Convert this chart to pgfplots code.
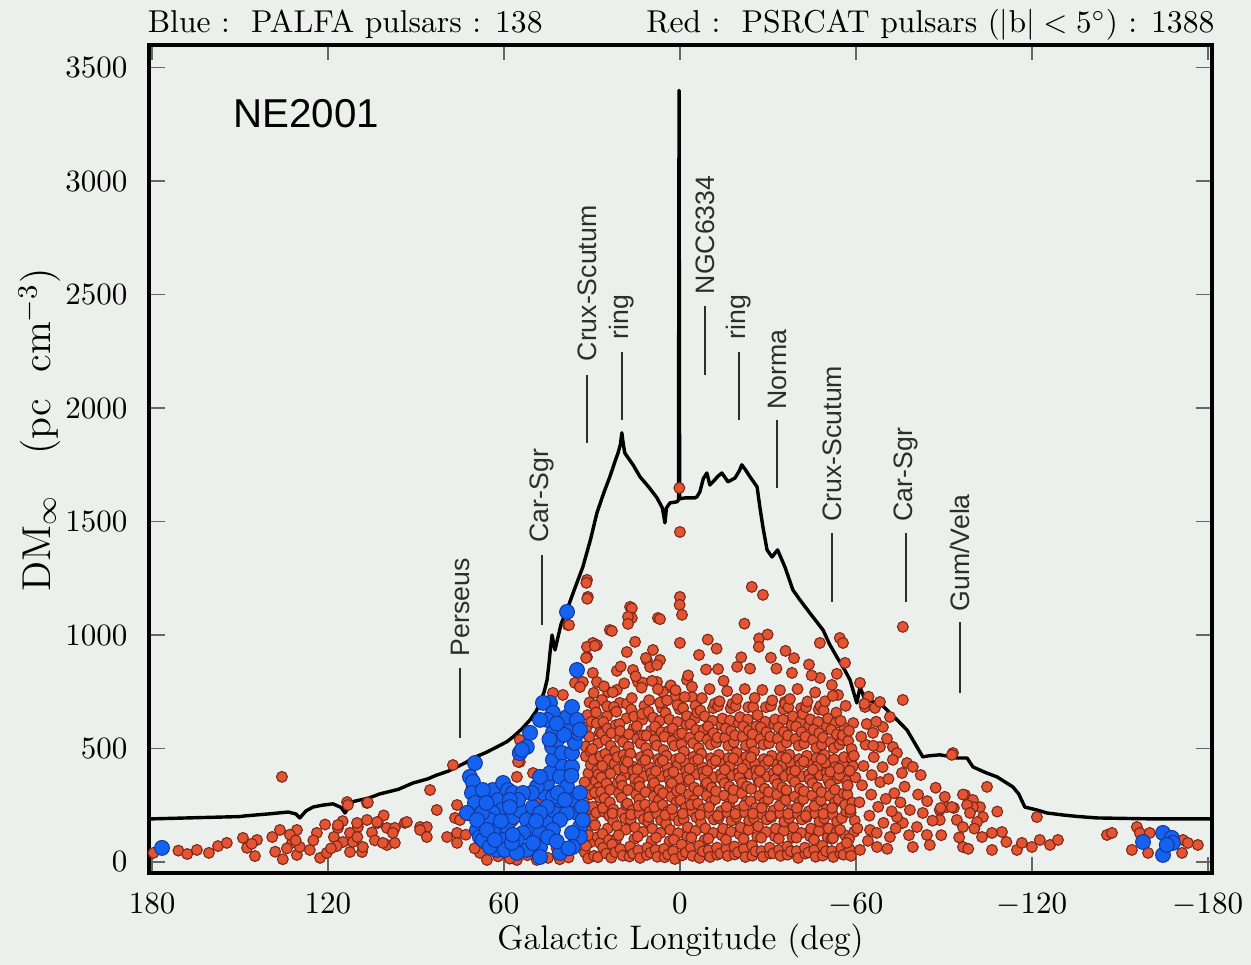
\documentclass[border=0pt]{standalone}
\usepackage{pgfplots}
\pgfplotsset{compat=1.18}
\usepackage{fontspec}
\newfontfamily\helv{Liberation Sans}
\definecolor{bg}{RGB}{236,240,237}
\definecolor{redfill}{RGB}{226,84,50}
\definecolor{rededge}{RGB}{125,40,25}
\definecolor{bluefill}{RGB}{22,98,240}
\definecolor{blueedge}{RGB}{15,52,150}
\definecolor{ann}{RGB}{45,45,45}
\begin{document}
\begin{tikzpicture}
\useasboundingbox[fill=bg] (-48.1pt,-29.7pt) rectangle (355.5pt,281.6pt);
\begin{axis}[name=ax, at={(0,0)}, anchor=south west, scale only axis,
  width=342.9pt, height=267.1pt,
  x dir=reverse, xmin=-181.4, xmax=181, ymin=-48, ymax=3600,
  xtick={-180,-120,-60,0,60,120,180}, ytick={0,500,1000,1500,2000,2500,3000,3500},
  xtick pos=both, ytick pos=both, tick align=inside,
  major tick length=5pt, tick style={black!60, line width=0.5pt},
  axis line style={line width=1.1pt},
  scaled y ticks=false, /pgf/number format/1000 sep={},
  tick label style={font=\fontsize{10.1}{12}\selectfont},
  yticklabel style={xshift=-3.5pt}, xticklabel style={yshift=-3pt},
  xlabel={Galactic Longitude (deg)},
  xlabel style={at={(axis description cs:0.5,-0.0929)}, anchor=base, font=\fontsize{11}{13}\selectfont},
  ylabel={DM$_\infty$\quad(pc\ \ cm$^{-3}$)},
  ylabel style={at={(axis description cs:-0.093,0.535)}, anchor=base, rotate=0, font=\fontsize{13}{15}\selectfont},
]
% PSRCAT pulsars (red)
\addplot[only marks, mark=*, mark size=1.75pt, mark options={fill=redfill, draw=rededge, line width=0.35pt}] coordinates {
(179.5,40) (164.7,53) (160.6,40) (157.5,70) (154.5,84) (149,106) (147.6,62) (144.9,26) (144.2,97) (146,80) (171,50) (168,35)
(136.4,141) (135.7,375) (135.4,12) (132.3,84) (130.6,141) (130.6,31) (129.6,66) (139,110) (138,45) (134,60) (133,120) (131,95)
(126.2,53) (123.8,128) (122.7,18) (120.4,40) (116.6,150) (114.9,88) (113.5,264) (112.5,128) (112.5,44) (111.5,88) (109.8,154)
(108.4,44) (108.1,66) (106.7,185) (106.7,260) (103,172) (99.9,150) (99.9,75) (97.2,150) (97.2,84) (93.8,172) (125,95) (118,110)
(117,70) (115,180) (110,110) (105,130) (104,95) (101,205) (119,60) (121,165) (113.2,251) (116.6,163) (110.1,172) (106.4,262)
(103.3,176) (93.1,176) (88.6,154) (86.3,154) (97.9,128) (88.6,141) (86.3,110) (101.3,84) (85.2,317) (82.9,229) (77.4,427)
(76.0,251) (76.7,194) (75.0,185) (76.0,128) (79.4,110) (76.0,84) (68.2,40) (65.8,9) (55.6,9) (48.8,9) (62,25) (58,15) (52,30)
(45,18) (41,12) (38,20) (70,60) (66,170) (60,120) (54.6,538) (54.6,441) (50.1,392) (55.2,441) (55.6,375) (39.9,736) (35.8,789)
(43.3,745) (38.2,1044) (33.1,793) (34.1,771) (36,300) (44,200) (49,260) (57,180) (63,240) (71,330) (73,120) (64,70) (47,90) (42,60)
(31.7,1243) (31.4,1168) (31.9,1230) (31.6,1160) (37.8,1044) (31.7,903) (29.7,965) (28.3,956) (23.9,1022) (23.2,1018) (17.0,1124)
(16.4,1118) (16.4,1075) (17.7,1080) (17.7,1049) (7.5,1075) (6.8,1070) (0,1168) (0.1,1133) (-0.7,1089) (0,965) (15.3,970)
(18.1,925) (11.3,890) (9.2,934) (11.6,899) (6.8,890) (10.2,859) (7.8,868) (3.4,771) (16.0,846) (29.7,833) (28.3,793) (24.5,749)
(26.6,714) (21.5,758) (20.5,701) (14.3,793) (12.6,790) (7.8,793) (5.8,749) (1.7,727) (-2.4,802) (-4.1,727) (-5.8,683) (31.7,948)
(29.0,952) (32.0,899) (0,1454) (0.2,1648) (-24.5,1212) (-28.3,1177) (-38.2,833) (-47.7,965) (-54.5,987) (-55.6,965) (-56.3,877)
(-47.7,811) (-53.5,829) (-51.8,780) (-53.9,736) (-35.8,705) (-9.5,980) (-12.5,940) (-22,1050) (-27,985) (-31,900) (-19.5,860)
(-6.5,912) (-13,850) (-36,930) (-44,870)
(32.4,42) (31.7,137) (32.9,214) (30.6,298) (31.2,391) (32.1,466) (30.9,552) (31.5,647) (30.3,88) (32.7,262) (31.0,339) (30.4,428)
(32.2,509) (31.8,594) (30.8,703) (31.3,16) (30.1,176) (32.5,352) (31.1,118) (30.5,487) (32.0,71) (30.2,618) (31.6,233)
(29.3,27) (28.1,109) (29.8,191) (27.4,284) (28.7,357) (29.5,452) (27.9,523) (28.4,611) (29.1,690) (27.2,83) (28.9,162) (29.7,243)
(27.6,327) (28.2,404) (29.9,498) (27.3,571) (28.6,659) (29.4,745) (28.0,21) (27.8,387) (29.0,306) (27.1,466) (28.5,217)
(26.2,63) (24.6,148) (25.8,221) (26.9,309) (24.3,398) (25.4,477) (26.6,566) (24.9,642) (25.1,37) (26.4,124) (24.1,203) (25.7,281)
(26.8,372) (24.4,451) (25.3,537) (26.1,617) (24.8,686) (25.9,774) (24.2,97) (26.5,423) (25.0,346) (24.7,589) (26.3,238)
(23.4,19) (21.6,103) (22.8,182) (23.9,263) (21.2,348) (22.3,433) (23.6,512) (21.9,603) (22.5,683) (23.1,77) (21.4,158) (22.7,232)
(23.8,318) (21.1,407) (22.1,488) (23.3,568) (21.7,662) (22.9,748) (21.5,842) (23.7,389) (22.0,43) (21.3,462) (23.0,214)
(20.3,57) (18.4,143) (19.7,217) (20.8,303) (18.9,382) (19.2,472) (20.5,547) (18.2,633) (19.5,28) (20.9,118) (18.7,192) (19.9,283)
(20.1,362) (18.5,447) (19.4,528) (20.6,608) (18.1,697) (19.0,787) (20.2,861) (18.8,413) (19.6,336) (20.4,577) (18.3,251)
(17.2,24) (15.5,102) (16.8,187) (17.9,257) (15.2,343) (16.3,422) (17.5,508) (15.8,588) (16.6,672) (17.0,68) (15.3,152) (16.1,228)
(17.7,317) (15.9,402) (16.9,477) (17.4,563) (15.6,641) (16.4,722) (15.1,818) (17.8,441) (16.0,37) (15.4,368) (16.7,209)
(14.2,52) (12.5,133) (13.8,213) (14.9,297) (12.2,378) (13.3,462) (14.6,542) (12.8,627) (13.6,18) (14.4,112) (12.3,188) (13.9,277)
(14.0,353) (12.6,437) (13.4,522) (14.7,598) (12.1,688) (13.1,768) (12.9,652) (14.5,408) (13.7,332) (12.4,558) (14.1,247)
(11.3,31) (9.6,94) (10.8,177) (11.9,253) (9.2,337) (10.4,418) (11.6,502) (9.9,578) (10.7,662) (11.1,63) (9.4,147) (10.2,223)
(11.7,308) (9.8,392) (10.9,473) (11.4,557) (9.1,636) (10.5,713) (9.5,798) (11.8,449) (10.0,41) (9.3,366) (10.6,198)
(8.3,54) (6.6,128) (7.8,212) (8.9,288) (6.2,377) (7.4,453) (8.6,538) (6.9,622) (7.7,23) (8.1,107) (6.4,183) (7.2,272)
(8.8,348) (6.7,437) (7.9,513) (8.5,597) (6.1,678) (7.5,762) (6.8,702) (8.2,401) (7.0,318) (6.3,572) (8.7,242)
(5.2,21) (3.5,92) (4.7,168) (5.9,252) (3.2,328) (4.3,417) (5.6,493) (3.8,577) (4.9,657) (5.4,58) (3.3,142) (4.1,222)
(5.7,303) (3.9,387) (4.6,468) (5.3,552) (3.6,628) (4.4,712) (3.1,778) (5.8,447) (4.0,33) (3.4,358) (5.0,207)
(2.3,48) (0.6,127) (1.8,203) (2.9,287) (0.2,368) (1.4,452) (2.6,533) (0.9,617) (1.7,13) (2.1,98) (0.4,182) (1.2,263)
(2.8,347) (0.7,428) (1.9,512) (2.5,588) (0.1,673) (1.5,757) (0.8,692) (2.2,397) (1.0,313) (0.3,563) (2.7,233)
(-0.8,29) (-2.5,112) (-1.3,188) (-0.2,272) (-2.9,353) (-1.7,437) (-0.5,518) (-2.2,602) (-1.1,678) (-0.6,77) (-2.7,153) (-1.9,238)
(-0.3,322) (-2.1,403) (-1.4,487) (-0.7,567) (-2.4,643) (-1.6,727) (-2.8,822) (-0.1,458) (-2.0,42) (-2.6,377) (-1.0,213)
(-3.7,62) (-5.4,138) (-4.2,222) (-3.1,298) (-5.8,387) (-4.6,463) (-3.4,548) (-5.1,632) (-4.3,27) (-3.9,108) (-5.6,197) (-4.8,273)
(-3.2,362) (-5.0,442) (-4.5,523) (-3.6,607) (-5.3,688) (-4.1,772) (-5.9,658) (-3.3,412) (-4.9,328) (-5.5,582) (-3.8,252)
(-6.7,18) (-8.4,97) (-7.2,173) (-6.1,257) (-8.8,342) (-7.6,418) (-6.4,502) (-8.1,583) (-7.0,667) (-6.6,72) (-8.7,148) (-7.9,232)
(-6.3,313) (-8.0,397) (-7.3,477) (-6.8,553) (-8.5,642) (-7.5,722) (-8.9,848) (-6.2,452) (-7.8,47) (-8.3,372) (-6.9,208)
(-9.8,52) (-11.4,128) (-10.2,212) (-9.1,292) (-11.8,373) (-10.6,457) (-9.4,538) (-11.1,622) (-10.3,22) (-9.7,103) (-11.6,187) (-10.8,267)
(-9.2,348) (-11.0,432) (-10.5,517) (-9.6,597) (-11.3,678) (-10.1,762) (-11.9,698) (-9.3,402) (-10.9,327) (-11.5,568) (-9.9,242)
(-12.7,32) (-14.4,117) (-13.2,193) (-12.1,277) (-14.8,358) (-13.6,442) (-12.4,527) (-14.1,603) (-13.0,687) (-12.6,63) (-14.7,147) (-13.9,223)
(-12.3,312) (-14.0,388) (-13.3,472) (-12.8,548) (-14.5,632) (-13.5,708) (-14.9,798) (-12.2,447) (-13.8,38) (-14.3,367) (-12.9,203)
(-15.8,57) (-17.4,133) (-16.2,217) (-15.1,293) (-17.8,382) (-16.6,458) (-15.4,547) (-17.1,623) (-16.3,27) (-15.7,98) (-17.6,182) (-16.8,258)
(-15.2,347) (-17.0,423) (-16.5,512) (-15.6,588) (-17.3,677) (-16.1,753) (-17.9,697) (-15.3,407) (-16.9,332) (-17.5,577) (-15.9,243)
(-18.7,33) (-20.4,122) (-19.2,198) (-18.1,282) (-20.8,363) (-19.6,447) (-18.4,528) (-20.1,612) (-19.0,688) (-18.6,68) (-20.7,152) (-19.9,228)
(-18.3,317) (-20.0,393) (-19.3,482) (-18.8,558) (-20.5,638) (-19.5,718) (-20.9,902) (-18.2,457) (-19.8,43) (-20.3,372) (-18.9,212)
(-21.8,58) (-23.4,142) (-22.2,218) (-21.1,302) (-23.8,387) (-22.6,463) (-21.4,552) (-23.1,628) (-22.3,22) (-21.7,102) (-23.6,183) (-22.8,267)
(-21.2,348) (-23.0,432) (-22.5,513) (-21.6,597) (-23.3,682) (-22.1,762) (-23.9,852) (-21.3,412) (-22.9,333) (-23.5,578) (-21.9,248)
(-24.7,28) (-26.4,112) (-25.2,192) (-24.1,268) (-26.8,357) (-25.6,433) (-24.4,522) (-26.1,598) (-25.0,682) (-24.6,73) (-26.7,157) (-25.9,238)
(-24.3,322) (-26.0,403) (-25.3,487) (-24.8,563) (-26.5,647) (-25.5,723) (-26.9,948) (-24.2,462) (-25.8,47) (-26.3,377) (-24.9,213)
(-27.8,48) (-29.4,132) (-28.2,208) (-27.1,292) (-29.8,377) (-28.6,453) (-27.4,542) (-29.1,618) (-28.3,23) (-27.7,107) (-29.6,187) (-28.8,263)
(-27.2,352) (-29.0,428) (-28.5,517) (-27.6,593) (-29.3,682) (-28.1,758) (-29.9,1002) (-27.3,402) (-28.9,323) (-29.5,572) (-27.9,238)
(-30.7,37) (-32.4,113) (-31.2,197) (-30.1,277) (-32.8,358) (-31.6,442) (-30.4,523) (-32.1,607) (-31.0,688) (-30.6,63) (-32.7,147) (-31.9,227)
(-30.3,308) (-32.0,392) (-31.3,468) (-30.8,552) (-32.5,628) (-31.5,712) (-32.9,852) (-30.2,447) (-31.8,38) (-32.3,363) (-30.9,203)
(-33.8,53) (-35.4,137) (-34.2,213) (-33.1,297) (-35.8,378) (-34.6,462) (-33.4,543) (-35.1,627) (-34.3,27) (-33.7,102) (-35.6,178) (-34.8,262)
(-33.2,343) (-35.0,427) (-34.5,508) (-33.6,592) (-35.3,673) (-34.1,757) (-35.9,697) (-33.3,407) (-34.9,328) (-35.5,573) (-33.9,247)
(-36.7,32) (-38.4,108) (-37.2,193) (-36.1,273) (-38.8,362) (-37.6,438) (-36.4,527) (-38.1,603) (-37.0,682) (-36.6,68) (-38.7,152) (-37.9,228)
(-36.3,317) (-38.0,397) (-37.3,473) (-36.8,557) (-38.5,642) (-37.5,718) (-38.9,898) (-36.2,457) (-37.8,47) (-38.3,368) (-36.9,212)
(-39.8,48) (-41.4,128) (-40.2,212) (-39.1,288) (-41.8,377) (-40.6,453) (-39.4,542) (-41.1,618) (-40.3,18) (-39.7,107) (-41.6,187) (-40.8,263)
(-39.2,352) (-41.0,428) (-40.5,513) (-39.6,597) (-41.3,678) (-40.1,762) (-41.9,652) (-39.3,402) (-40.9,323) (-41.5,572) (-39.9,238)
(-42.7,37) (-44.4,113) (-43.2,197) (-42.1,277) (-44.8,358) (-43.6,438) (-42.4,522) (-44.1,602) (-43.0,682) (-42.6,63) (-44.7,147) (-43.9,223)
(-42.3,312) (-44.0,388) (-43.3,468) (-42.8,552) (-44.5,628) (-43.5,707) (-44.9,822) (-42.2,443) (-43.8,42) (-44.3,363) (-42.9,203)
(-45.8,53) (-47.4,137) (-46.2,213) (-45.1,293) (-47.8,382) (-46.6,458) (-45.4,538) (-47.1,617) (-46.3,23) (-45.7,98) (-47.6,178) (-46.8,262)
(-45.2,347) (-47.0,423) (-46.5,503) (-45.6,583) (-47.3,672) (-46.1,747) (-47.9,688) (-45.3,407) (-46.9,328) (-47.5,568) (-45.9,247)
(-48.7,28) (-50.4,108) (-49.2,192) (-48.1,272) (-50.8,353) (-49.6,437) (-48.4,517) (-50.1,597) (-49.0,668) (-48.6,72) (-50.7,148) (-49.9,232)
(-48.3,308) (-50.0,392) (-49.3,472) (-48.8,548) (-50.5,632) (-49.5,708) (-48.2,453) (-49.8,47) (-50.3,368) (-48.9,212)
(-51.8,48) (-53.4,132) (-52.2,208) (-51.1,292) (-53.8,368) (-52.6,452) (-51.4,528) (-53.1,612) (-52.3,22) (-51.7,102) (-53.6,178) (-52.8,262)
(-51.2,342) (-53.0,418) (-52.5,502) (-51.6,582) (-53.3,658) (-52.1,732) (-51.3,397) (-52.9,318) (-53.5,562) (-51.9,238)
(-54.7,37) (-56.4,117) (-55.2,193) (-54.1,277) (-56.8,357) (-55.6,433) (-54.4,517) (-56.1,592) (-55.0,62) (-54.6,142) (-56.7,222) (-55.9,302)
(-54.3,382) (-56.0,462) (-55.3,538) (-54.8,622) (-56.5,688) (-55.5,558) (-54.2,412) (-55.8,32) (-56.3,252)
(-57.8,57) (-59.4,133) (-58.2,217) (-57.1,297) (-59.8,373) (-58.6,457) (-57.4,533) (-59.1,612) (-58.3,27) (-57.7,102) (-59.6,182) (-58.8,262)
(-57.2,338) (-59.0,422) (-58.5,498) (-57.6,578) (-59.3,468) (-58.1,232) (-57.9,402)
(-61.4,789) (-63.1,683) (-66.5,679) (-68.2,705) (-71.6,639) (-69.2,595) (-65.8,569) (-68.2,507) (-72.6,507) (-74.0,480) (-77.4,436)
(-79.4,419) (-75.7,392) (-72.6,450) (-93.1,480) (-104.7,331) (-97.2,295) (-99.9,273) (-102.3,242) (-91.0,242) (-93.4,238) (-88.6,229)
(-121.7,198) (-96.5,297) (-99.9,242) (-103.3,198) (-96.5,66) (-106.4,53) (-109.8,132) (-114.9,53) (-116.6,84) (-120,66) (-122.7,97)
(-126.2,75) (-128.9,97) (-145.6,119) (-147.3,128) (-155.8,154) (-156.8,128) (-154.1,53) (-159.6,40) (-171.5,97) (-173.2,84)
(-176.6,75) (-171.2,40) (-160.2,128) (-88.9,238) (-92.7,242) (-88.6,185) (-94.4,185) (-96.5,154) (-97.9,251) (-98.9,216) (-101.3,176)
(-103,110) (-106.4,128) (-84.2,119) (-79.4,66) (-85.2,75) (-80.8,154) (-76.0,172) (-71.6,110) (-67.2,66) (-61.4,53) (-56.9,84)
(-52.2,106) (-64.8,141) (-74.0,198) (-78.4,229) (-82.8,216) (-76.0,1036) (-76.0,714) (-92.7,472)
(-60.5,148) (-61.2,263) (-62.1,338) (-62.6,423) (-63.3,517) (-63.7,608) (-64.1,93) (-64.6,204) (-65.2,297) (-65.4,383) (-66.1,462)
(-67.1,128) (-67.6,243) (-68.3,352) (-69.1,418) (-69.4,172) (-70.2,278) (-70.7,58) (-71.1,366) (-72.2,223) (-73.1,303) (-73.6,148)
(-75.2,262) (-76.6,332) (-78.1,118) (-81.2,297) (-82.1,383) (-84.3,268) (-86.1,182) (-87.2,327) (-89.1,118) (-90.3,287) (-95.2,108)
(-98.3,58) (-100.4,147) (-108.2,222) (-111.3,88) (-64.3,728) (-66.9,618) (-70.6,543) (-61.8,552) (-62.9,697) (-65.9,512)
};
% NE2001 model
\addplot[black, line width=1.1pt, line join=round] coordinates {
(181,190) (179.7,190) (165,195) (150,200) (148.3,203) (140,212) (133.6,220) (131,212) (129.6,194) (127.5,225) (125.1,242)
(122,250) (118.3,256) (115.5,240) (114.2,216) (113,240) (111.5,266) (106,282) (102.3,300) (96,320) (91,348) (86,366)
(82.9,383) (79,400) (76,419) (73,438) (70.6,458) (66,483) (62.4,507) (59,530) (56.9,551) (54,585) (51.1,626) (49,665)
(47.7,701) (46.3,750) (45.3,802) (44.6,880) (44.3,921) (43.6,1000) (42.6,934) (40.5,1050) (38.5,1111) (36,1200) (33.1,1300)
(30.5,1420) (28.3,1538) (26,1625) (23.9,1697) (22,1770) (21.1,1802) (20.3,1840) (19.8,1891) (19.3,1840) (18.8,1802) (16,1750)
(13.6,1697) (10.5,1650) (7.8,1604) (6,1560) (5.1,1494) (4.6,1560) (3.4,1582) (1.0,1587) (0.5,1595) (0.3,3400) (0.1,1600)
(-1.7,1604) (-2.4,1604) (-5.1,1604) (-5.8,1609) (-6.8,1631) (-8.0,1690) (-9.2,1714) (-10.2,1661) (-11.9,1684) (-13.0,1700)
(-14.3,1714) (-16.4,1675) (-18.8,1692) (-20.3,1725) (-21.1,1750) (-22.5,1725) (-23.9,1697) (-26.3,1653) (-27.3,1560) (-28.3,1476)
(-29.7,1375) (-31.4,1344) (-33.3,1375) (-35.8,1300) (-38.5,1199) (-40.9,1155) (-44.3,1097) (-48.8,1022) (-51,960) (-53.5,903)
(-56,850) (-58,802) (-60.3,701) (-61.4,771) (-63.1,714) (-68.2,701) (-71.6,657) (-74.5,620) (-77.4,582) (-80,525) (-82.8,463)
(-85,468) (-88.6,472) (-92,465) (-94.4,458) (-97.9,458) (-99.9,419) (-104,395) (-108.1,375) (-113.5,331) (-115.5,300)
(-117.6,242) (-121.7,229) (-125.1,216) (-130.6,207) (-136,200) (-142.2,194) (-160,190) (-182,190)
};
% PALFA pulsars (blue)
\addplot[only marks, mark=*, mark size=2.4pt, mark options={fill=bluefill, draw=blueedge, line width=0.3pt}] coordinates {
(69.9,436) (71.6,375) (70.6,353) (70.9,304) (72.3,216) (69.9,260) (69.2,141) (68.2,110) (67.2,97) (63.8,317) (62.1,273) (60.3,348)
(58.6,317) (56.9,304) (60.7,229) (63.8,216) (64.8,185) (62.4,141) (59.0,154) (56.9,198) (54.6,229) (52.2,185) (50.1,242) (50.5,141)
(53.5,128) (55.6,97) (60.3,97) (62.4,53) (52.2,53) (47.7,66) (40.9,40) (47.7,128) (45.3,185) (43.3,229) (46.7,304) (45.3,348)
(44.3,392) (43.3,450) (43.6,507) (41.9,538) (40.2,480) (39.9,419) (40.9,375) (38.5,331) (36.8,419) (36.8,480) (35.8,524) (34.8,569)
(36.8,595) (38.5,639) (36.8,683) (35.1,626) (34.1,582) (44.3,701) (46.7,701) (43.3,657) (45.3,626) (47.7,626) (51.1,569) (52.2,507)
(54.6,480) (53.9,494) (35.1,846) (38.5,1102) (36.5,273) (35.1,216) (34.1,154) (34.1,110) (36.8,128) (38.5,216) (40.9,273) (43.3,286)
(45.3,242) (48.8,331) (47.7,375) (43.3,569) (41.6,304) (39.2,273) (40.9,185) (43.3,141) (45.0,110) (47.7,216) (50.5,304) (53.5,304)
(55.2,273) (58.0,273) (58.0,242) (67.2,317) (67.5,216) (72.6,216) (69.2,185) (65.8,141) (64.8,66) (59.7,53) (55.6,40) (50.1,84)
(34.1,304) (33.4,242) (33.1,185) (36.5,66) (63.1,97) (57.3,84) (47.7,22) (42,90) (38,60) (61,180) (66,260) (57,120) (49,180)
(37,380) (39.5,560) (42,610) (44.5,540)
(176.6,62) (-157.9,88) (-164.7,128) (-167.7,106) (-168.1,84) (-164.7,31) (-166,75)
};
% annotations
\begin{scope}[every node/.style={rotate=90, anchor=west, inner sep=0pt, text=ann, font=\helv\fontsize{8.6}{10}\selectfont}]
\draw[ann, line width=0.8pt] (axis cs:75.0,546) -- (axis cs:75.0,855);   \node at (axis cs:75.0,903) {Perseus};
\draw[ann, line width=0.8pt] (axis cs:47.0,1044) -- (axis cs:47.0,1353); \node at (axis cs:47.0,1406) {Car-Sgr};
\draw[ann, line width=0.8pt] (axis cs:31.7,1847) -- (axis cs:31.7,2146); \node at (axis cs:31.7,2204) {Crux-Scutum};
\draw[ann, line width=0.8pt] (axis cs:19.8,1948) -- (axis cs:19.8,2248); \node at (axis cs:19.8,2301) {ring};
\draw[ann, line width=0.8pt] (axis cs:-8.5,2146) -- (axis cs:-8.5,2450); \node at (axis cs:-8.5,2499) {NGC6334};
\draw[ann, line width=0.8pt] (axis cs:-20.1,1948) -- (axis cs:-20.1,2248); \node at (axis cs:-20.1,2301) {ring};
\draw[ann, line width=0.8pt] (axis cs:-33.1,1648) -- (axis cs:-33.1,1948); \node at (axis cs:-33.1,1992) {Norma};
\draw[ann, line width=0.8pt] (axis cs:-51.8,1146) -- (axis cs:-51.8,1450); \node at (axis cs:-51.8,1498) {Crux-Scutum};
\draw[ann, line width=0.8pt] (axis cs:-77.1,1146) -- (axis cs:-77.1,1450); \node at (axis cs:-77.1,1498) {Car-Sgr};
\draw[ann, line width=0.8pt] (axis cs:-95.5,745) -- (axis cs:-95.5,1058);  \node at (axis cs:-95.5,1102) {Gum/Vela};
\end{scope}
\node[anchor=west, inner sep=0pt, font=\helv\fontsize{13}{15}\selectfont] at (axis cs:152.4,3297) {NE2001};
\end{axis}
\node[anchor=base west, inner sep=0pt, font=\fontsize{10.2}{12}\selectfont] at ([xshift=-0.6pt,yshift=3.9pt]ax.north west) {Blue :\ \ PALFA pulsars : 138};
\node[anchor=base east, inner sep=0pt, font=\fontsize{10.2}{12}\selectfont] at ([xshift=1pt,yshift=3.9pt]ax.north east) {Red :\ \ PSRCAT pulsars $\left(|\mathrm{b}|<5^{\circ}\right)$ : 1388};
\end{tikzpicture}
\end{document}
